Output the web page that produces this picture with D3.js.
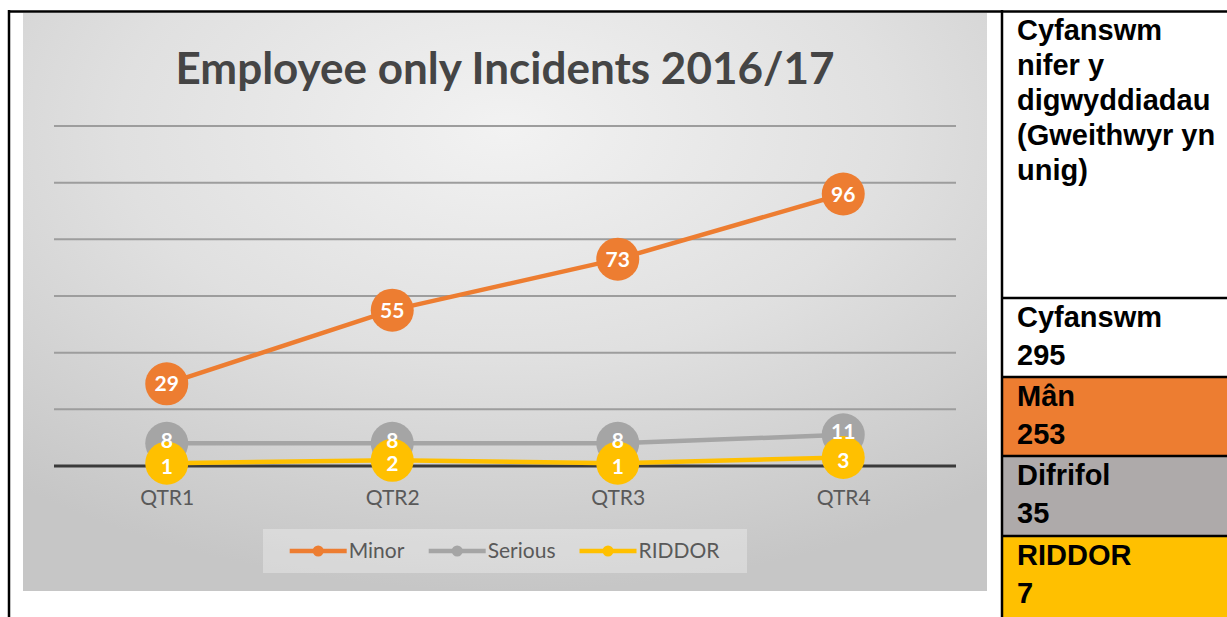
<!DOCTYPE html>
<html>
<head>
<meta charset="utf-8">
<script src="https://cdn.jsdelivr.net/npm/d3@7"></script>
<style>
  body { margin: 0; background: #fff; }
  svg { display: block; }
</style>
</head>
<body>
<svg id="chart"></svg>
<script>
// chart data
const quarters = ["QTR1", "QTR2", "QTR3", "QTR4"];
const minor = [29, 55, 73, 96];
const serious = [8, 8, 8, 11];
const riddor = [1, 2, 1, 3];
const yTicks = [0, 20, 40, 60, 80, 100, 120];
const seriesNames = ["Minor", "Serious", "RIDDOR"];
const title = "Employee only Incidents 2016/17";

// side table (Welsh)
const headerLines = ["Cyfanswm", "nifer y", "digwyddiadau", "(Gweithwyr yn", "unig)"];
const totalLabel = "Cyfanswm";
const cellLabels = ["Mân", "Difrifol", "RIDDOR"];

const colors = ["#ED7D31", "#A5A5A5", "#FFC000"];
const cellColors = ["#ED7D31", "#AEAAAA", "#FFC000"];
// small vertical nudge of the data labels so stacked ones read apart
const labelShift = [0, -3, 3];

const svgWidth = 1227, svgHeight = 617;
const svg = d3.select("#chart").attr("width", svgWidth).attr("height", svgHeight);

const series = [minor, serious, riddor].map((vals, i) => ({
  name: seriesNames[i],
  color: colors[i],
  shift: labelShift[i],
  values: vals.map((v, j) => ({ q: quarters[j], v: v }))
}));

// chart panel with soft gradient
const defs = svg.append("defs");
const grad = defs.append("radialGradient")
  .attr("id", "bg")
  .attr("cx", "50%").attr("cy", "20%").attr("r", "80%");
grad.append("stop").attr("offset", "0%").attr("stop-color", "#f2f2f2");
grad.append("stop").attr("offset", "50%").attr("stop-color", "#e0e0e0");
grad.append("stop").attr("offset", "100%").attr("stop-color", "#c6c6c6");

const panel = { x: 23, y: 13, w: 964, h: 578 };
svg.append("rect")
  .attr("x", panel.x).attr("y", panel.y)
  .attr("width", panel.w).attr("height", panel.h)
  .attr("fill", "url(#bg)");

svg.append("text")
  .attr("x", panel.x + panel.w / 2)
  .attr("y", 84)
  .attr("text-anchor", "middle")
  .attr("font-family", "Lato, sans-serif")
  .attr("font-weight", "bold")
  .attr("font-size", 44)
  .attr("fill", "#454545")
  .text(title);

let x = d3.scalePoint().domain(quarters).range([54, 956]).padding(0.5);
let y = d3.scaleLinear().domain([0, 120]).range([466, 126]);

// gridlines
svg.append("g")
  .selectAll("line")
  .data(yTicks.filter(t => t > 0))
  .join("line")
  .attr("x1", 54).attr("x2", 956)
  .attr("y1", d => y(d)).attr("y2", d => y(d))
  .attr("stroke", "#9d9d9d")
  .attr("stroke-width", 2);

// x axis
const xAxis = svg.append("g")
  .attr("transform", `translate(0,${y(0)})`)
  .call(d3.axisBottom(x).tickSize(0).tickPadding(24));
xAxis.select(".domain").remove();
xAxis.append("line")
  .attr("x1", 54).attr("x2", 956)
  .attr("stroke", "#3a3a3a")
  .attr("stroke-width", 3);
xAxis.selectAll(".tick text")
  .attr("font-family", "Lato, sans-serif")
  .attr("font-size", 21)
  .attr("fill", "#595959");

let line = d3.line()
  .x(d => x(d.q))
  .y(d => y(d.v));

const sg = svg.append("g").selectAll("g").data(series).join("g");
sg.append("path")
  .attr("d", d => line(d.values))
  .attr("fill", "none")
  .attr("stroke", d => d.color)
  .attr("stroke-width", 4.5)
  .attr("stroke-linejoin", "round")
  .attr("stroke-linecap", "round");
sg.selectAll("circle")
  .data(d => d.values.map(p => ({ ...p, color: d.color })))
  .join("circle")
  .attr("cx", d => x(d.q))
  .attr("cy", d => y(d.v))
  .attr("r", 21.5)
  .attr("fill", d => d.color);

// data labels on top of all markers
svg.append("g").selectAll("g").data(series).join("g")
  .selectAll("text")
  .data(d => d.values.map(p => ({ ...p, shift: d.shift })))
  .join("text")
  .attr("x", d => x(d.q))
  .attr("y", d => y(d.v) + d.shift)
  .attr("dy", "0.36em")
  .attr("text-anchor", "middle")
  .attr("font-family", "Lato, sans-serif")
  .attr("font-weight", "bold")
  .attr("font-size", 21)
  .attr("fill", "#fff")
  .text(d => d.v);

// legend
const legendBox = { x: 263, y: 529, w: 484, h: 44 };
svg.append("rect")
  .attr("x", legendBox.x).attr("y", legendBox.y)
  .attr("width", legendBox.w).attr("height", legendBox.h)
  .attr("fill", "#ffffff").attr("fill-opacity", 0.3);

const lg = svg.append("g");
const items = lg.selectAll("g").data(series).join("g");
items.append("line")
  .attr("x1", 0).attr("x2", 57)
  .attr("stroke", d => d.color)
  .attr("stroke-width", 4.5);
items.append("circle")
  .attr("cx", 28.5).attr("r", 5.5)
  .attr("fill", d => d.color);
items.append("text")
  .attr("x", 59)
  .attr("dy", "0.35em")
  .attr("font-family", "Lato, sans-serif")
  .attr("font-size", 21)
  .attr("fill", "#595959")
  .text(d => d.name);

let widths = [];
items.each(function () { widths.push(this.getBBox().width); });
const gap = 24;
const totalW = d3.sum(widths) + gap * (widths.length - 1);
let cursor = legendBox.x + legendBox.w / 2 - totalW / 2;
items.attr("transform", (d, i) => {
  const t = `translate(${cursor},${legendBox.y + legendBox.h / 2})`;
  cursor += widths[i] + gap;
  return t;
});

// side table
const tableX = 1002;
const border = "#000";
const rows = [
  { y0: 298, y1: 377, fill: "#fff", lines: [totalLabel, d3.sum(minor) + d3.sum(serious) + d3.sum(riddor)] },
  { y0: 377, y1: 456, fill: cellColors[0], lines: [cellLabels[0], d3.sum(minor)] },
  { y0: 456, y1: 536, fill: cellColors[1], lines: [cellLabels[1], d3.sum(serious)] },
  { y0: 536, y1: 617, fill: cellColors[2], lines: [cellLabels[2], d3.sum(riddor)] }
];

svg.append("g").selectAll("rect")
  .data(rows)
  .join("rect")
  .attr("x", tableX).attr("y", d => d.y0)
  .attr("width", svgWidth - tableX).attr("height", d => d.y1 - d.y0)
  .attr("fill", d => d.fill);

const textStyle = sel => sel
  .attr("font-family", "'Liberation Sans', Arial, sans-serif")
  .attr("font-weight", "bold")
  .attr("font-size", 29)
  .attr("fill", "#000");

svg.append("g").selectAll("text")
  .data(headerLines)
  .join("text")
  .attr("x", 1017)
  .attr("y", (d, i) => 40 + i * 35)
  .call(textStyle)
  .text(d => d);

svg.append("g").selectAll("text")
  .data(rows.flatMap(r => r.lines.map((t, i) => ({ t, y: r.y0 + 29 + i * 38 }))))
  .join("text")
  .attr("x", 1017)
  .attr("y", d => d.y)
  .call(textStyle)
  .text(d => d.t);

// borders
const hLines = [298, 377, 456, 536];
svg.append("g").selectAll("line")
  .data(hLines)
  .join("line")
  .attr("x1", tableX).attr("x2", svgWidth)
  .attr("y1", d => d).attr("y2", d => d)
  .attr("stroke", border).attr("stroke-width", 2.5);
svg.append("line")
  .attr("x1", 8).attr("x2", svgWidth)
  .attr("y1", 11.5).attr("y2", 11.5)
  .attr("stroke", border).attr("stroke-width", 2.5);
svg.append("line")
  .attr("x1", 9).attr("x2", 9)
  .attr("y1", 10).attr("y2", svgHeight)
  .attr("stroke", border).attr("stroke-width", 2.5);
svg.append("line")
  .attr("x1", tableX).attr("x2", tableX)
  .attr("y1", 10).attr("y2", svgHeight)
  .attr("stroke", border).attr("stroke-width", 2.5);
</script>
</body>
</html>
